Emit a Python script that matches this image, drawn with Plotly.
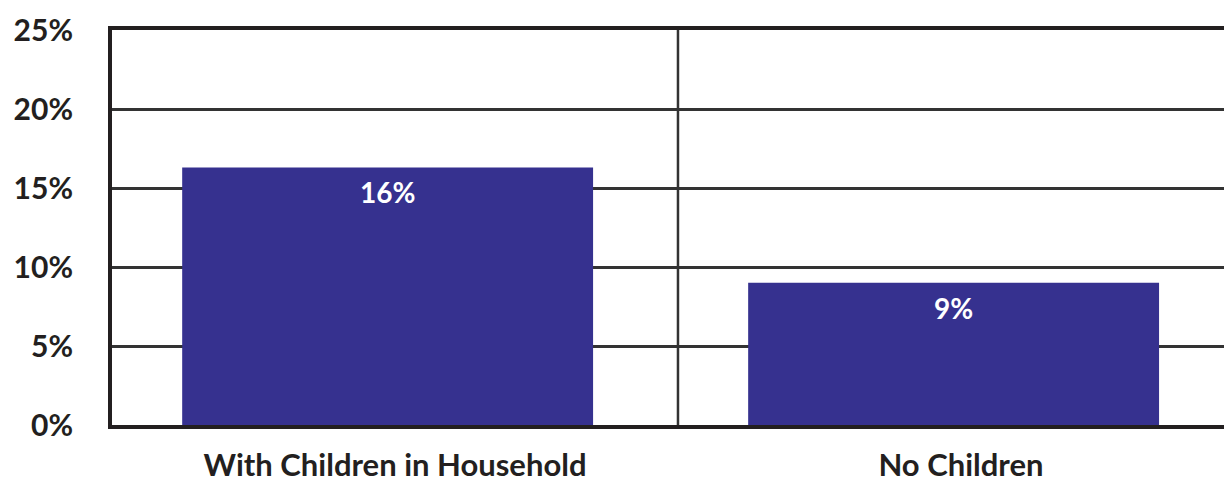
import plotly.graph_objects as go

categories = ["With Children in Household", "No Children"]
values = [16.3, 9.0]
value_labels = ["16%", "9%"]
y_ticks = [0, 5, 10, 15, 20, 25]
y_tick_labels = ["0%", "5%", "10%", "15%", "20%", "25%"]

BAR = "#36318F"
INK = "#231F20"
FONT = "Lato"

fig = go.Figure()
fig.add_trace(go.Bar(
    x=categories, y=values, marker=dict(color=BAR, line=dict(width=0)),
    width=0.726, offset=-0.376, hoverinfo="skip",
))
for c, v, t in zip(categories, values, value_labels):
    fig.add_annotation(x=c, y=v, text=t, showarrow=False, yshift=-25,
                       xshift=-7,
                       font=dict(family=FONT, size=28, color="white", weight="bold"))

fig.add_shape(type="line", xref="x", yref="paper", x0=0.5, x1=0.5, y0=0, y1=1,
              line=dict(color="#333333", width=2.5), layer="below")

fig.update_layout(
    width=1232, height=480,
    margin=dict(l=104, r=0, t=22, b=63),
    paper_bgcolor="white", plot_bgcolor="white",
    showlegend=False,
    xaxis=dict(
        range=[-0.5, 1.493], showgrid=False, showline=True, mirror=True,
        linecolor=INK, linewidth=4, ticks="", ticklabelstandoff=10,
        tickfont=dict(family=FONT, size=31, color=INK, weight="bold"),
        fixedrange=True, automargin=False,
    ),
    yaxis=dict(
        range=[0, 25], tickvals=y_ticks, ticktext=y_tick_labels,
        showgrid=True, gridcolor="#333333", gridwidth=2.5,
        showline=True, linecolor=INK, linewidth=4, zeroline=False,
        ticks="", ticklabelstandoff=29,
        tickfont=dict(family=FONT, size=30, color=INK, weight="bold"),
        fixedrange=True, automargin=False,
    ),
)

fig.write_html("out.html")
